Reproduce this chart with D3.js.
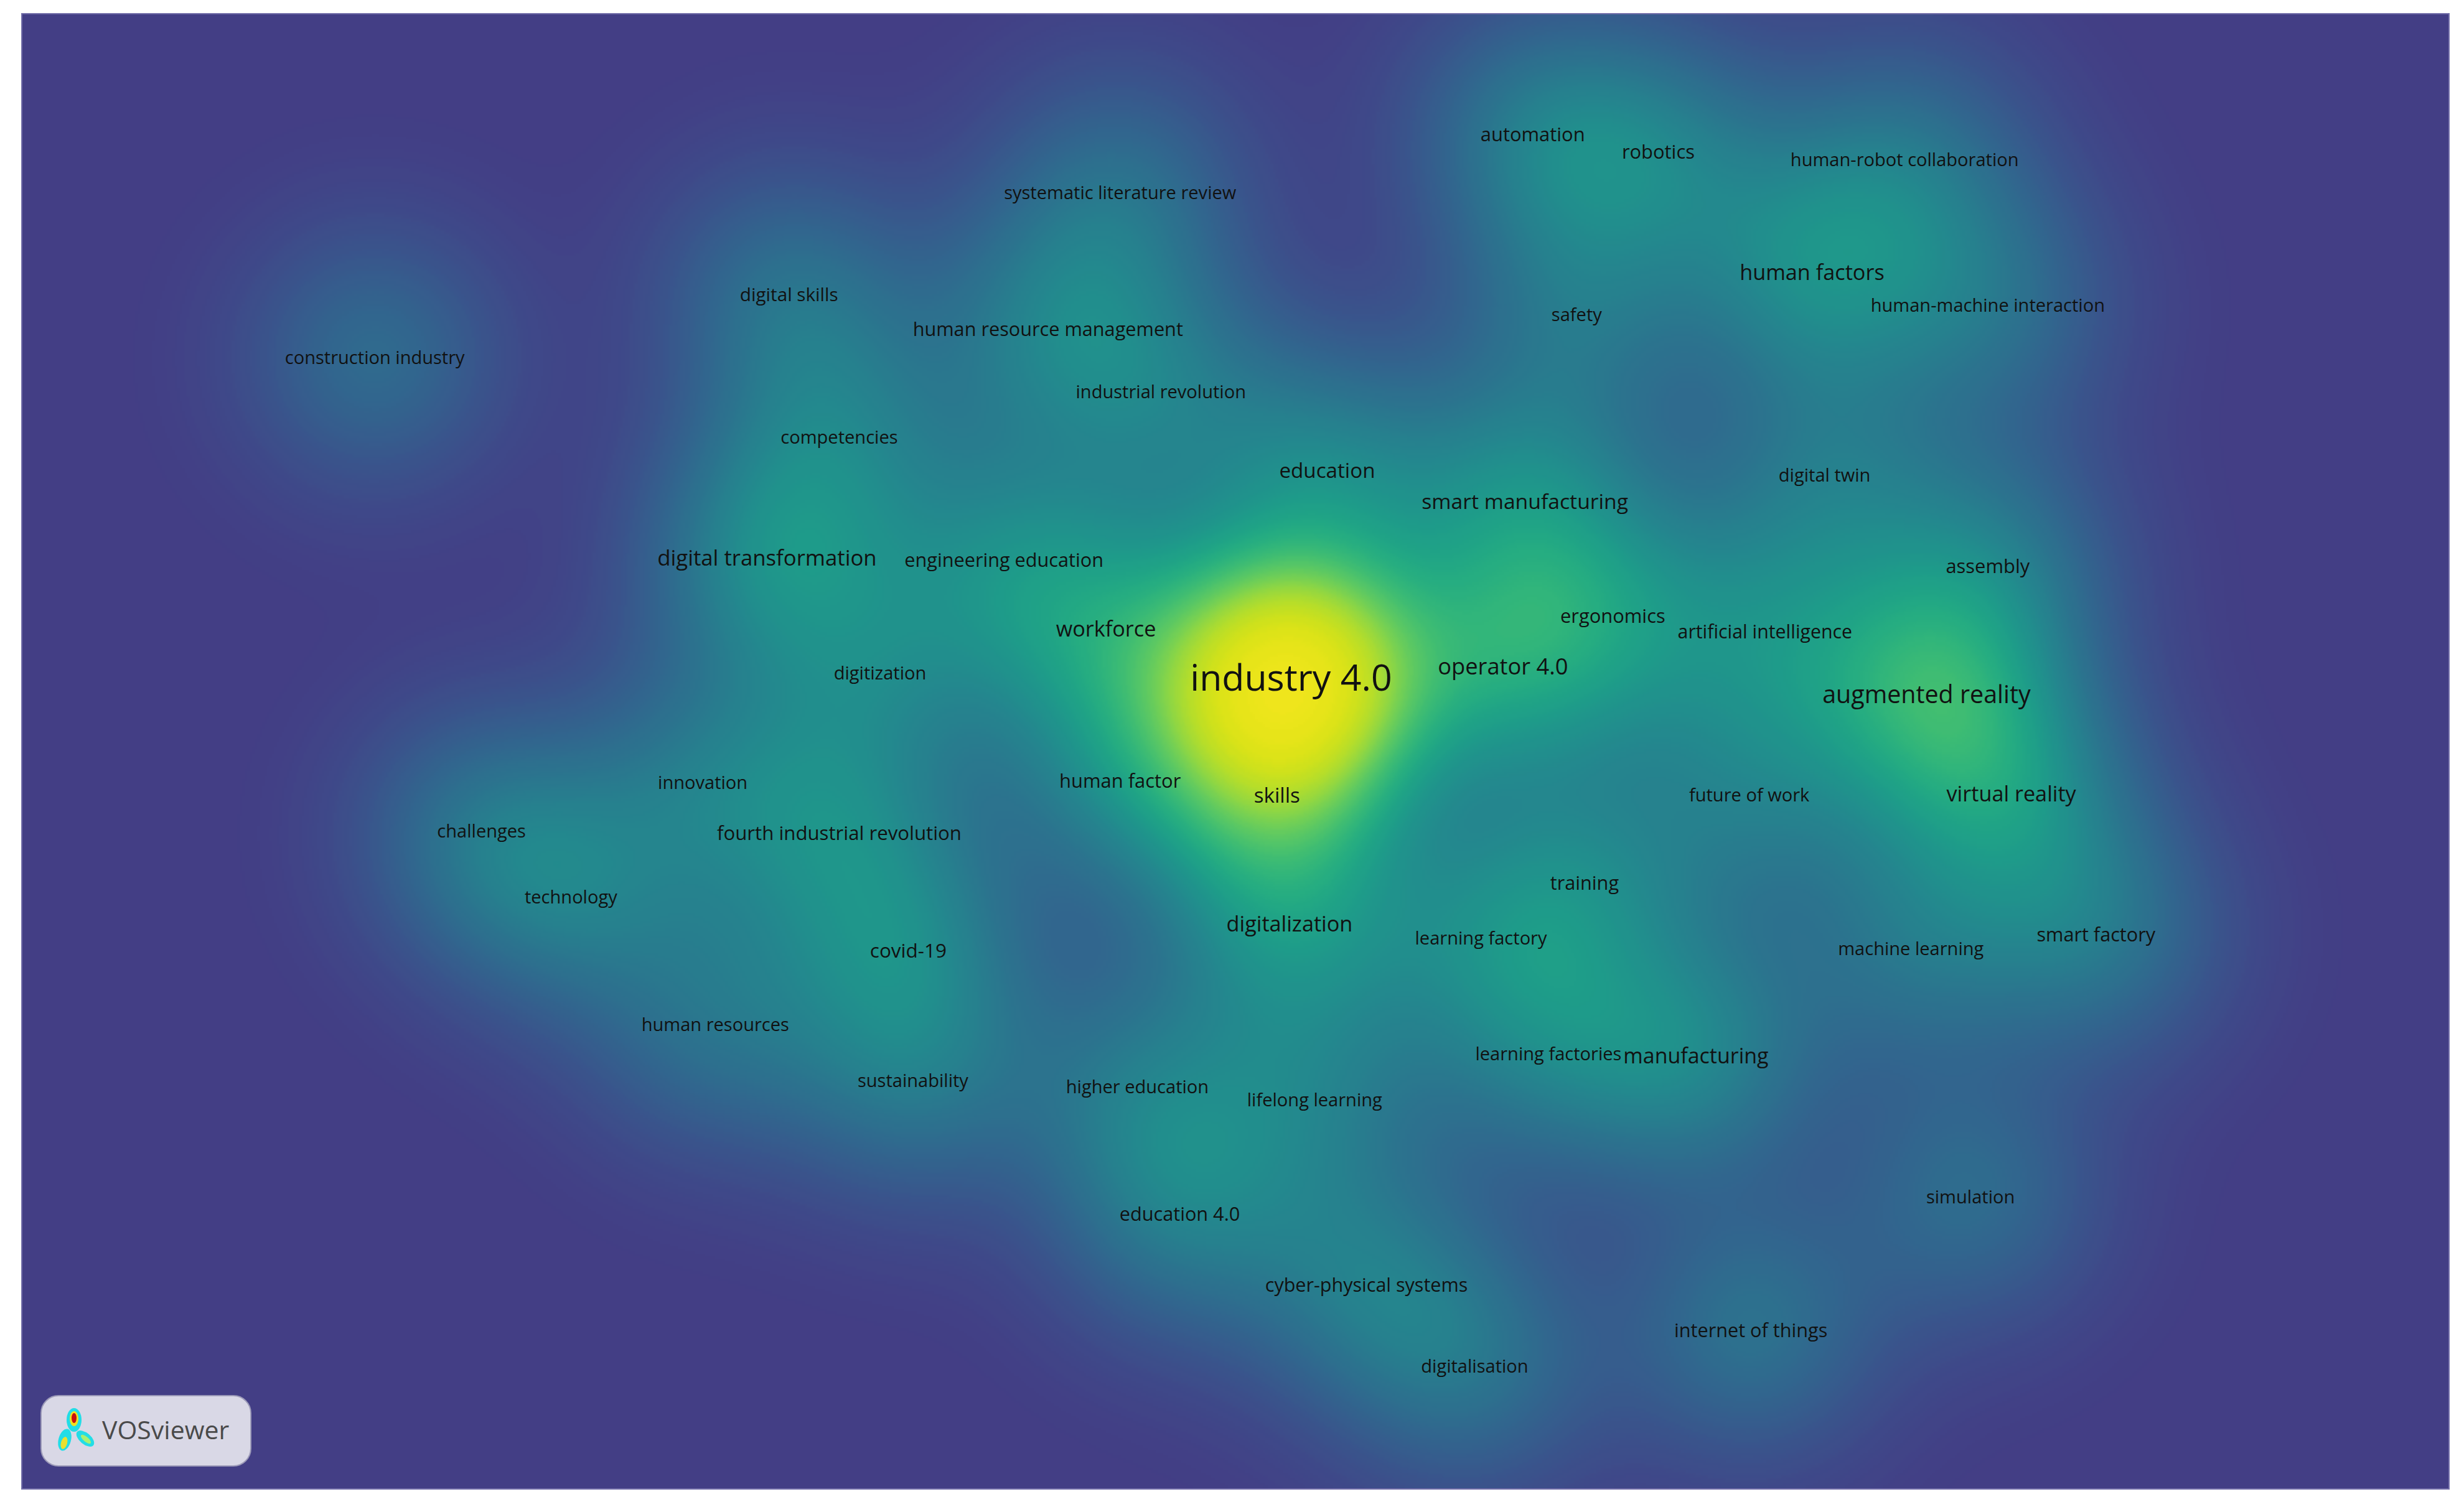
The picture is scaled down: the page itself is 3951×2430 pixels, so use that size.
<!DOCTYPE html>
<html>
<head>
<meta charset="utf-8">
<script src="https://cdn.jsdelivr.net/npm/d3@7"></script>
<style>
body{margin:0;background:#fff;}
svg{display:block;font-family:"Open Sans",sans-serif;}
</style>
</head>
<body>
<svg id="map" width="3951" height="2430"></svg>
<script>
// keyword terms, map coordinates and occurrence weights
var terms = ["industry 4.0","augmented reality","virtual reality","smart factory","machine learning",
  "simulation","internet of things","digitalisation","cyber-physical systems","education 4.0",
  "lifelong learning","higher education","sustainability","human resources","covid-19",
  "technology","challenges","innovation","fourth industrial revolution","digitization",
  "digital transformation","engineering education","workforce","competencies","digital skills",
  "human resource management","systematic literature review","industrial revolution","construction industry","education",
  "smart manufacturing","operator 4.0","ergonomics","artificial intelligence","assembly",
  "digital twin","human factors","human-machine interaction","human-robot collaboration","robotics",
  "automation","safety","skills","human factor","digitalization",
  "learning factory","training","future of work","learning factories","manufacturing"];
var xs = [823,1228,1282,1336,1218, 1256,1116,940,871,752, 838,725,582,456,579,
  364,307,448,535,561, 489,640,705,535,503, 668,714,740,239,846,
  972,958,1028,1125,1267, 1163,1155,1267,1214,1057, 977,1005,814,714,822,
  944,1010,1115,987,1081];
var ys = [432,443,506,596,605, 763,848,871,819,774, 701,693,689,653,606,
  572,530,499,531,429, 356,357,401,279,188, 210,123,250,228,300,
  320,425,393,403,361, 303,174,195,102,97, 86,201,507,498,589,
  598,563,507,672,673];
var weights = [100,40,29,22.6,20, 20,22.6,20,22.4,22.6, 20,20,20,20,24,
  20,20,20,23.5,20, 30,22.6,29,20,21, 22.6,20,20,20,27,
  28,33,23,22,23, 20,29,20,20,23, 23,20,27,23,29,
  20,22.6,20,20,28.5];

var W = 3951, H = 2430;
var frame = {left: 35, top: 22, right: 3935, bottom: 2393};
var svg = d3.select("#map");

var x = d3.scaleLinear().domain([14, 1561]).range([frame.left, frame.right]);
var y = d3.scaleLinear().domain([9, 949]).range([frame.top, frame.bottom]);
var fontSize = d3.scalePow().exponent(0.44).domain([0, 100]).range([0, 59]);

var kernel = 58;      // kernel width in map units
var floorT = 0.18;    // colour of zero density on the viridis ramp
var clip = 0.82;      // share of the peak density shown as full yellow

// soft saturation near the top of the ramp
function ramp(u) {
  return u < 0.78 ? u : 0.78 + 0.22 * (1 - Math.exp(-(u - 0.78) / 0.22));
}

// colour lookup table
var lut = d3.range(256).map(function(i){ return d3.rgb(d3.interpolateViridis(floorT + (1 - floorT) * i / 255)); });

// density surface on a coarse grid
var step = 4;
var gw = Math.ceil((frame.right - frame.left) / step),
    gh = Math.ceil((frame.bottom - frame.top) / step);
var px = xs.map(function(d){ return x(d); }),
    py = ys.map(function(d){ return y(d); });
var sig = x(kernel) - x(0);
var k = 1 / (2 * sig * sig);
var dens = new Float32Array(gw * gh), max = 0;
for (var j = 0; j < gh; j++) {
  var cy = frame.top + (j + 0.5) * step;
  for (var i = 0; i < gw; i++) {
    var cx = frame.left + (i + 0.5) * step, d = 0;
    for (var n = 0; n < px.length; n++) {
      var dx = cx - px[n], dy = cy - py[n];
      d += weights[n] * Math.exp(-(dx * dx + dy * dy) * k);
    }
    dens[j * gw + i] = d;
    if (d > max) max = d;
  }
}
var canvas = document.createElement("canvas");
canvas.width = gw; canvas.height = gh;
var ctx = canvas.getContext("2d");
var img = ctx.createImageData(gw, gh);
for (var p = 0; p < dens.length; p++) {
  var c = lut[Math.min(255, Math.round(255 * ramp(dens[p] / (clip * max))))];
  img.data[p * 4] = c.r; img.data[p * 4 + 1] = c.g; img.data[p * 4 + 2] = c.b; img.data[p * 4 + 3] = 255;
}
ctx.putImageData(img, 0, 0);

svg.append("image")
  .attr("x", frame.left).attr("y", frame.top)
  .attr("width", frame.right - frame.left).attr("height", frame.bottom - frame.top)
  .attr("preserveAspectRatio", "none")
  .attr("href", canvas.toDataURL());

svg.append("rect")
  .attr("x", frame.left).attr("y", frame.top)
  .attr("width", frame.right - frame.left).attr("height", frame.bottom - frame.top)
  .attr("fill", "none").attr("stroke", "#7470aa").attr("stroke-width", 2);

// labels
svg.append("g").selectAll("text")
  .data(d3.range(terms.length))
  .enter().append("text")
  .attr("x", function(i){ return x(xs[i]); })
  .attr("y", function(i){ return y(ys[i]); })
  .attr("dy", "0.35em")
  .attr("text-anchor", "middle")
  .attr("font-size", function(i){ return fontSize(weights[i]); })
  .attr("fill", "#111")
  .text(function(i){ return terms[i]; });

// VOSviewer badge
var logo = svg.append("g");
logo.append("rect")
  .attr("x", 66).attr("y", 2243).attr("width", 337).attr("height", 113).attr("rx", 28)
  .attr("fill", "#d9d8e6").attr("stroke", "#9c9ab8").attr("stroke-width", 2);
var icon = logo.append("g");
icon.append("ellipse").attr("cx", 119).attr("cy", 2282).attr("rx", 12).attr("ry", 19).attr("fill", "#22dde6");
icon.append("ellipse").attr("cx", 104).attr("cy", 2314).attr("rx", 10).attr("ry", 18)
  .attr("transform", "rotate(15,104,2314)").attr("fill", "#22dde6");
icon.append("ellipse").attr("cx", 137).attr("cy", 2312).attr("rx", 17).attr("ry", 9)
  .attr("transform", "rotate(40,137,2312)").attr("fill", "#22dde6");
icon.append("ellipse").attr("cx", 119).attr("cy", 2280).attr("rx", 7).attr("ry", 12).attr("fill", "#f0e020");
icon.append("ellipse").attr("cx", 119).attr("cy", 2279).attr("rx", 4).attr("ry", 8).attr("fill", "#c81010");
icon.append("ellipse").attr("cx", 103).attr("cy", 2319).attr("rx", 5).attr("ry", 10)
  .attr("transform", "rotate(15,103,2319)").attr("fill", "#e8e030");
icon.append("ellipse").attr("cx", 138).attr("cy", 2313).attr("rx", 10).attr("ry", 4)
  .attr("transform", "rotate(40,138,2313)").attr("fill", "#a8f070");
logo.append("text")
  .attr("x", 164).attr("y", 2313)
  .attr("font-size", 41).attr("fill", "#4a4a4a")
  .text("VOSviewer");
</script>
</body>
</html>
